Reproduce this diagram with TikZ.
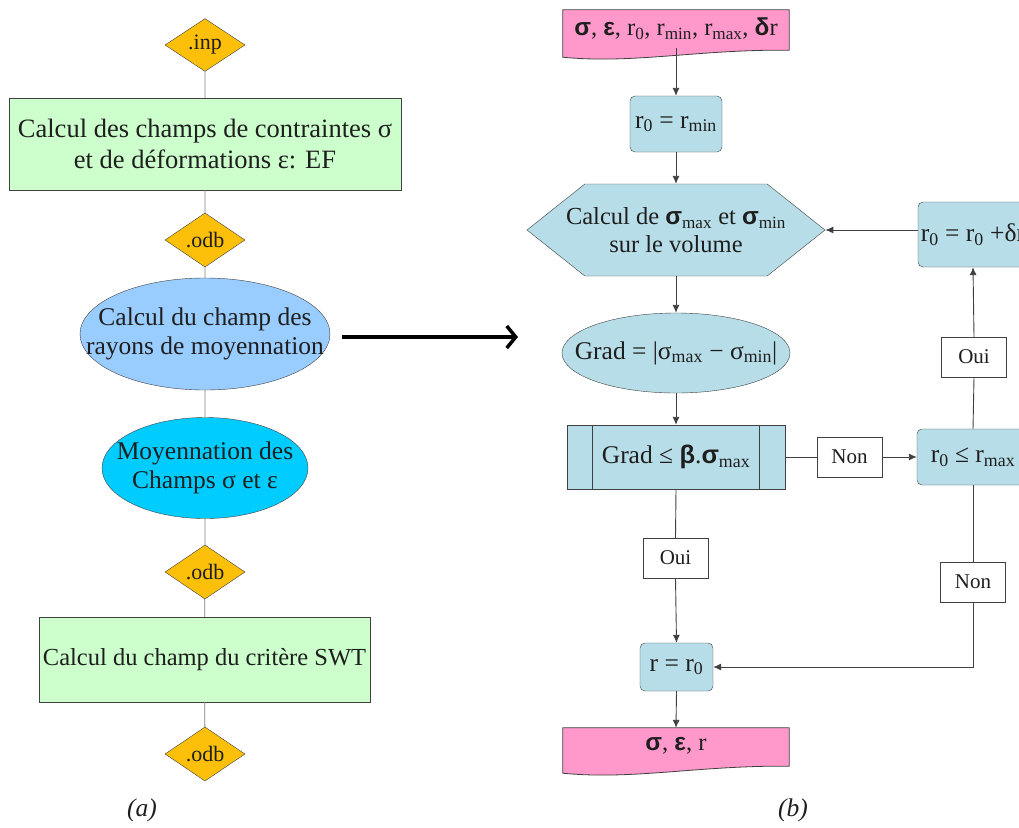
\documentclass[tikz,border=0pt]{standalone}
\usepackage{fontspec}
\setmainfont{Liberation Serif}
\setsansfont{Liberation Sans}
\usetikzlibrary{positioning,arrows.meta,shapes.geometric,shapes.symbols,backgrounds,calc}
\definecolor{moyOrange}{RGB}{252,192,10}
\definecolor{moyGreen}{RGB}{204,255,204}
\definecolor{moySky}{RGB}{153,204,255}
\definecolor{moyCyan}{RGB}{0,204,255}
\definecolor{moyTeal}{RGB}{183,222,232}
\definecolor{moyPink}{RGB}{255,153,204}
\definecolor{moyLine}{RGB}{64,64,64}
\definecolor{moyInk}{RGB}{30,30,30}
\newcommand{\gk}[1]{{\sffamily\bfseries #1}}
\newcommand{\ind}[1]{\textsubscript{#1}}

\begin{document}
\begin{tikzpicture}[x=1pt, y=-1pt,
    every node/.style={font=\rmfamily\fontsize{25.5}{29}\selectfont, text=moyInk},
    fichier/.style={diamond, draw=moyLine, fill=moyOrange, minimum width=80pt,
      minimum height=44pt, inner sep=0pt, font=\rmfamily\fontsize{22}{24}\selectfont},
    calcEF/.style={draw=moyLine, fill=moyGreen, align=center, inner sep=0pt},
    bulle/.style={ellipse, draw=moyLine, align=center, inner sep=-60pt},
    etape/.style={draw=moyLine, fill=moyTeal, rounded corners=5pt, inner sep=0pt},
    reponse/.style={draw=moyLine, fill=white, minimum width=65pt, minimum height=40pt,
      inner sep=0pt, font=\rmfamily\fontsize{21}{24}\selectfont},
    feuille/.style={inner sep=0pt, minimum width=226pt, font=\rmfamily\fontsize{24.5}{28}\selectfont},
    lien/.style={draw=gray, line width=0.8pt},
    arrow/.style={-{Latex[length=8pt,width=7pt]}, line width=0.9pt, color=moyLine}
  ]
    \useasboundingbox (0,0) rectangle (1019,827);

    % (a) chaine de calcul
    \node[fichier] (inp) at (205,45) {.inp};
    \node[calcEF, minimum width=392pt, minimum height=92pt,
      font=\rmfamily\fontsize{26.5}{31}\selectfont] (ef) at (205,144)
      {Calcul des champs de contraintes σ\\ et de déformations ε: EF};
    \node[fichier] (odbA) at (205,240) {.odb};
    \node[bulle, fill=moySky, minimum width=250pt, minimum height=112pt] (rayons) at (205,334)
      {Calcul du champ des\\ rayons de moyennation};
    \node[bulle, fill=moyCyan, minimum width=206pt, minimum height=101pt] (moy) at (205,468)
      {Moyennation des\\ Champs σ et ε};
    \node[fichier] (odbB) at (205,572) {.odb};
    \node[calcEF, minimum width=331pt, minimum height=85pt,
      font=\rmfamily\fontsize{24.5}{29}\selectfont] (swt) at (204.5,659.5)
      {Calcul du champ du critère SWT};
    \node[fichier] (odbC) at (205,754) {.odb};
    \node (labA) at (142,810) {\textit{(a)}};

    \draw[lien] (inp) -- (ef) -- (odbA) -- (rayons) -- (moy) -- (odbB) -- (swt) -- (odbC);

    \coordinate (flecheA) at (342,337);
    \coordinate (flecheB) at (518,337);
    \draw[line width=3.5pt, -{Straight Barb[length=9pt,width=22pt]}] (flecheA) -- (flecheB);

    % (b) recherche du rayon
    \node[feuille, minimum height=38pt] (donnees) at (676,29)
      {\gk{σ}, \gk{ε}, r\ind{0}, r\ind{min}, r\ind{max}, \gk{δ}r};
    \node[etape, minimum width=92pt, minimum height=56pt] (init) at (676,124)
      {r\ind{0} = r\ind{min}};
    \node[signal, signal to=east and west, signal pointer angle=77, draw=moyLine,
      fill=moyTeal, minimum width=298pt, minimum height=92pt, inner xsep=-40pt,
      inner ysep=0pt, align=center, font=\rmfamily\fontsize{24.5}{28}\selectfont]
      (extrema) at (676,230)
      {Calcul de \gk{σ}\ind{max} et \gk{σ}\ind{min}\\ sur le volume};
    \node[etape, minimum width=110pt, minimum height=65pt] (incr) at (973,234.5)
      {r\ind{0} = r\ind{0} +δr};
    \node[bulle, fill=moyTeal, minimum width=228pt, minimum height=80pt] (grad) at (676,353)
      {Grad = |σ\ind{max} − σ\ind{min}|};
    \node[draw=moyLine, fill=moyTeal, minimum width=218pt, minimum height=64pt,
      inner sep=0pt] (test) at (676,457) {Grad ≤ \gk{β}.\gk{σ}\ind{max}};
    \node[reponse] (non1) at (849.5,457) {Non};
    \node[etape, minimum width=112pt, minimum height=56pt] (seuil) at (973,457)
      {r\ind{0} ≤ r\ind{max}};
    \node[reponse] (oui2) at (974,357) {Oui};
    \node[reponse] (oui1) at (675.5,558) {Oui};
    \node[reponse] (non2) at (973,582) {Non};
    \node[etape, minimum width=73pt, minimum height=48pt] (final) at (676.5,667)
      {r = r\ind{0}};
    \node[feuille, minimum height=36pt] (resultat) at (676,746)
      {\gk{σ}, \gk{ε}, r};
    \node (labB) at (793,810) {\textit{(b)}};

    \foreach \side/\dx in {west/26pt, east/-26pt}
      \draw[moyLine, line width=0.8pt] ($(test.north \side)+(\dx,0)$) -- ($(test.south \side)+(\dx,0)$);

    \begin{scope}[on background layer]
      \foreach \doc in {donnees, resultat}
        \filldraw[fill=moyPink, draw=moyLine, line width=0.8pt]
          (\doc.north west) -- (\doc.north east) -- ($(\doc.south east)+(0,-2pt)$)
          .. controls ($(\doc.south east)+(-90pt,-1pt)$) and ($(\doc.south west)+(70pt,-16pt)$)
          .. ($(\doc.south west)+(0,-9pt)$) -- cycle;
    \end{scope}

    \draw[arrow] (donnees.south) -- (init.north);
    \draw[arrow] (init.south) -- (extrema.north);
    \draw[arrow] (extrema.south) -- (grad.north);
    \draw[arrow] (grad.south) -- (test.north);
    \draw[arrow, -] (test.east) -- (non1.west);
    \draw[arrow] (non1.east) -- (seuil.west);
    \draw[arrow, -] (seuil.north) -- (oui2.south);
    \draw[arrow] (oui2.north) -- (incr.south);
    \draw[arrow] (incr.west |- extrema.east) -- (extrema.east);
    \draw[arrow, -] (seuil.south) -- (non2.north);
    \draw[arrow] (non2.south) |- (final.east);
    \draw[arrow, -] (test.south) -- (oui1.north);
    \draw[arrow] (oui1.south) -- (final.north);
    \draw[arrow] (final.south) -- (resultat.north);
\end{tikzpicture}
\end{document}
